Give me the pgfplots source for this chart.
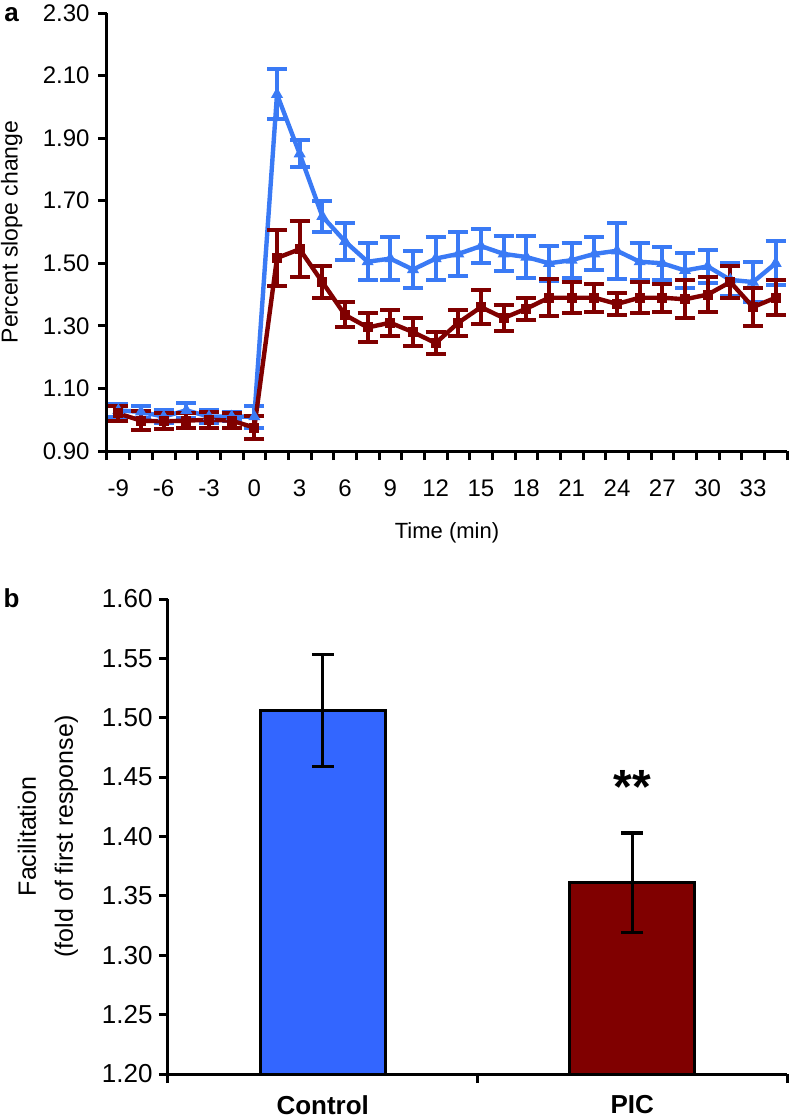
\documentclass[border=0pt]{standalone}
\usepackage{fontspec}
\setmainfont{Liberation Sans}
\usepackage{pgfplots}
\usepackage{pgfplotstable}
\pgfplotsset{compat=1.18}

\definecolor{ctrlblue}{RGB}{58,122,245}
\definecolor{barblue}{RGB}{51,102,255}
\definecolor{picred}{RGB}{128,0,0}

% time course: mean and SEM, control vs PIC
\pgfplotstableread{
t     ctrl   ectrl  pic    epic
-9    1.030  0.020  1.020  0.025
-7.5  1.025  0.020  0.997  0.030
-6    1.010  0.020  0.995  0.025
-4.5  1.030  0.025  0.997  0.025
-3    1.010  0.020  1.000  0.025
-1.5  1.010  0.015  0.997  0.025
0     1.010  0.035  0.975  0.038
1.5   2.040  0.080  1.517  0.090
3     1.850  0.043  1.545  0.090
4.5   1.650  0.050  1.440  0.052
6     1.570  0.060  1.335  0.040
7.5   1.505  0.060  1.295  0.045
9     1.515  0.070  1.310  0.042
10.5  1.480  0.058  1.280  0.045
12    1.515  0.070  1.245  0.035
13.5  1.530  0.070  1.310  0.042
15    1.555  0.055  1.360  0.055
16.5  1.530  0.056  1.325  0.042
18    1.520  0.066  1.355  0.035
19.5  1.500  0.056  1.390  0.060
21    1.510  0.056  1.390  0.050
22.5  1.530  0.053  1.390  0.045
24    1.540  0.090  1.370  0.035
25.5  1.505  0.060  1.390  0.050
27    1.500  0.053  1.390  0.045
28.5  1.477  0.056  1.385  0.060
30    1.490  0.053  1.400  0.055
31.5  1.447  0.053  1.440  0.050
33    1.440  0.065  1.360  0.060
34.5  1.500  0.070  1.390  0.055
}\timecourse

\pgfplotsset{
  excel/.style={
    scale only axis,
    axis x line*=bottom, axis y line*=left,
    axis line style={line width=1.5pt, -},
    tick align=outside,
    every tick/.style={black, line width=1.5pt},
    major tick length=0pt,
    minor tick length=4.5pt,
    /pgf/number format/assume math mode=true,
    clip=false,
  },
  twodec/.style={/pgf/number format/fixed, /pgf/number format/fixed zerofill,
    /pgf/number format/precision=2},
}

\begin{document}
\begin{tikzpicture}
\useasboundingbox (0pt,0pt) rectangle (394.5pt,-559.5pt);

% panel a
\begin{axis}[excel,
    at={(53.5pt,-6.5pt)}, anchor=north west,
    width=340pt, height=219pt,
    xmin=-9.75, xmax=35.25, ymin=0.9, ymax=2.3,
    xtick={-9,-6,-3,0,3,6,9,12,15,18,21,24,27,30,33},
    minor xtick={-9.75,-8.25,-6.75,-5.25,-3.75,-2.25,-0.75,0.75,2.25,3.75,5.25,6.75,8.25,9.75,11.25,12.75,14.25,15.75,17.25,18.75,20.25,21.75,23.25,24.75,26.25,27.75,29.25,30.75,32.25,33.75,35.25},
    ytick={0.9,1.1,1.3,1.5,1.7,1.9,2.1,2.3},
    minor ytick={0.9,1.1,1.3,1.5,1.7,1.9,2.1,2.3},
    yticklabel style={twodec},
    ticklabel style={font=\fontsize{12}{12}\selectfont},
    xticklabel style={anchor=center, inner sep=0pt, yshift=-18.5pt},
    yticklabel style={anchor=east, inner sep=0pt, xshift=-8.5pt},
    xlabel={Time (min)},
    xlabel style={font=\fontsize{11}{12}\selectfont, at={(axis description cs:0.5,-0.187)}, anchor=center},
    ylabel={Percent slope change},
    ylabel style={font=\fontsize{11.5}{12}\selectfont, at={(axis description cs:-0.140,0.5)}, anchor=center},
  ]
  \addplot[ctrlblue, line width=2.2pt, mark=triangle*, mark size=2.5pt,
    mark options={fill=ctrlblue, line width=1pt},
    error bars/.cd, y dir=both, y explicit,
    error bar style={line width=2pt, ctrlblue},
    error mark options={rotate=90, mark size=5pt, line width=2pt, ctrlblue}]
    table[x=t, y=ctrl, y error=ectrl] {\timecourse};
  \addplot[picred, line width=2.2pt, mark=square*, mark size=2pt,
    mark options={fill=picred, line width=1pt},
    error bars/.cd, y dir=both, y explicit,
    error bar style={line width=2pt, picred},
    error mark options={rotate=90, mark size=5pt, line width=2pt, picred}]
    table[x=t, y=pic, y error=epic] {\timecourse};
\end{axis}

% panel b
\begin{axis}[excel,
    at={(84pt,-299.5pt)}, anchor=north west,
    width=309.5pt, height=237.5pt,
    xmin=-0.5, xmax=1.5, ymin=1.2, ymax=1.6,
    clip=true,
    xtick={0,1},
    xticklabels={\textbf{Control},\textbf{PIC}},
    minor xtick={-0.5,0.5,1.5},
    ytick={1.2,1.25,1.3,1.35,1.4,1.45,1.5,1.55,1.6},
    minor ytick={1.2,1.25,1.3,1.35,1.4,1.45,1.5,1.55,1.6},
    yticklabel style={twodec},
    ticklabel style={font=\fontsize{13}{13}\selectfont},
    xticklabel style={anchor=center, inner sep=0pt, yshift=-15.5pt},
    yticklabel style={anchor=east, inner sep=0pt, xshift=-7.5pt},
    ylabel={Facilitation\\(fold of first response)},
    ylabel style={font=\fontsize{12.5}{18.5}\selectfont, align=center, at={(axis description cs:-0.194,0.5)}, anchor=center},
  ]
  \addplot[ybar, bar width=62.5pt, bar shift=0pt, fill=barblue, draw=black, line width=1.5pt,
    error bars/.cd, y dir=both, y explicit,
    error bar style={line width=1.6pt, black},
    error mark options={rotate=90, mark size=5.5pt, line width=1.6pt, black}]
    coordinates {(0,1.506) +- (0,0.047)};
  \addplot[ybar, bar width=62.5pt, bar shift=0pt, fill=picred, draw=black, line width=1.5pt,
    error bars/.cd, y dir=both, y explicit,
    error bar style={line width=1.6pt, black},
    error mark options={rotate=90, mark size=5.5pt, line width=1.6pt, black}]
    coordinates {(1,1.361) +- (0,0.042)};
  \node[font=\fontsize{24}{24}\selectfont\bfseries, yshift=-5pt] at (axis cs:1,1.45) {**};
\end{axis}

\node[font=\fontsize{13}{13}\selectfont\bfseries] at (5.75pt,-7.5pt) {a};
\node[font=\fontsize{13}{13}\selectfont\bfseries] at (5.75pt,-299pt) {b};
\end{tikzpicture}
\end{document}
